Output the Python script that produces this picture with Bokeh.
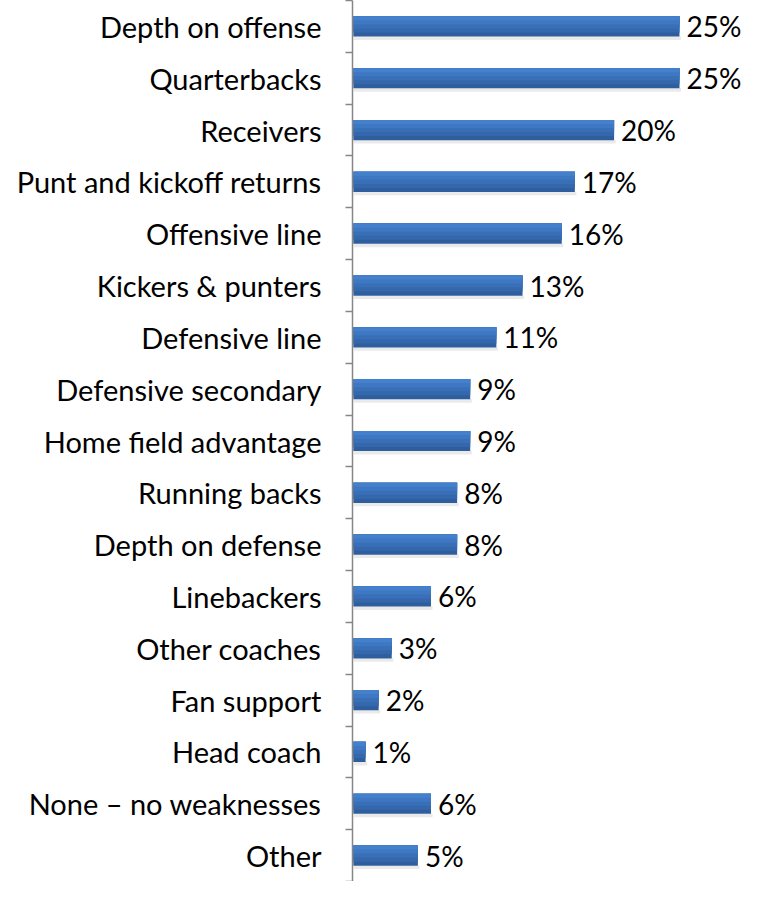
from bokeh.plotting import figure
from bokeh.models import LinearAxis, FixedTicker, ColumnDataSource, Range1d
from bokeh.core.properties import value
from bokeh.embed import file_html
from bokeh.resources import INLINE

categories = ["Depth on offense", "Quarterbacks", "Receivers", "Punt and kickoff returns",
              "Offensive line", "Kickers & punters", "Defensive line", "Defensive secondary",
              "Home field advantage", "Running backs", "Depth on defense", "Linebackers",
              "Other coaches", "Fan support", "Head coach", "None \u2013 no weaknesses", "Other"]
values = [25, 25, 20, 17, 16, 13, 11, 9, 9, 8, 8, 6, 3, 2, 1, 6, 5]

n = len(categories)
ypos = [n - 1 - i for i in range(n)]
labels = [f"{v}%" for v in values]
src = ColumnDataSource(dict(y=ypos, v=values, lab=labels, cat=categories))

FONT = "Lato"
FS = "29px"
BAR_H = 0.39
p = figure(width=747, height=881, output_backend="svg", toolbar_location=None,
           x_range=Range1d(0, 30.2), y_range=Range1d(-0.5, n - 0.5),
           min_border_left=352, min_border_right=0, min_border_top=0, min_border_bottom=0,
           y_axis_location=None, x_axis_location=None)
p.outline_line_color = None
p.grid.visible = False

axis = LinearAxis(ticker=FixedTicker(ticks=ypos, minor_ticks=[k - 0.5 for k in range(n + 1)]))
axis.major_label_overrides = {y: c for y, c in zip(ypos, categories)}
axis.axis_line_color = "#868686"
axis.axis_line_width = 1.5
axis.major_tick_line_color = None
axis.major_tick_out = 7
axis.major_tick_in = 0
axis.minor_tick_line_color = "#868686"
axis.minor_tick_line_width = 1.5
axis.minor_tick_out = 7
axis.minor_tick_in = 0
axis.major_label_text_font = FONT
axis.major_label_text_font_size = FS
axis.major_label_text_color = "black"
axis.major_label_standoff = 24
p.add_layout(axis, "left")

# soft shadow under each bar
shadow = ColumnDataSource(dict(y=[y - BAR_H / 2 - 0.03 for y in ypos],
                               r=[v + 0.12 for v in values]))
p.hbar(y="y", right="r", left=0.1, height=0.07, source=shadow, fill_color="#b8b8b8",
       fill_alpha=0.3, line_color=None)

# bars with vertical shading: full dark bar, then lighter top-anchored layers
shades = ["#2f5e9e", "#3467ab", "#396fb7", "#3e77c2", "#4480cc"]
k = len(shades)
for j, col in enumerate(shades):
    h = BAR_H * (k - j) / k
    off = BAR_H / 2 - h / 2
    s = ColumnDataSource(dict(y=[y + off for y in ypos], v=values))
    p.hbar(y="y", right="v", left=0.06, height=h, source=s, fill_color=col,
           line_color=None)

p.text(x="v", y="y", text="lab", source=src, x_offset=7, text_baseline="middle",
       text_align="left", text_font=value(FONT), text_font_size="28px", text_color="black")

open("out.html", "w").write(file_html(p, INLINE))
